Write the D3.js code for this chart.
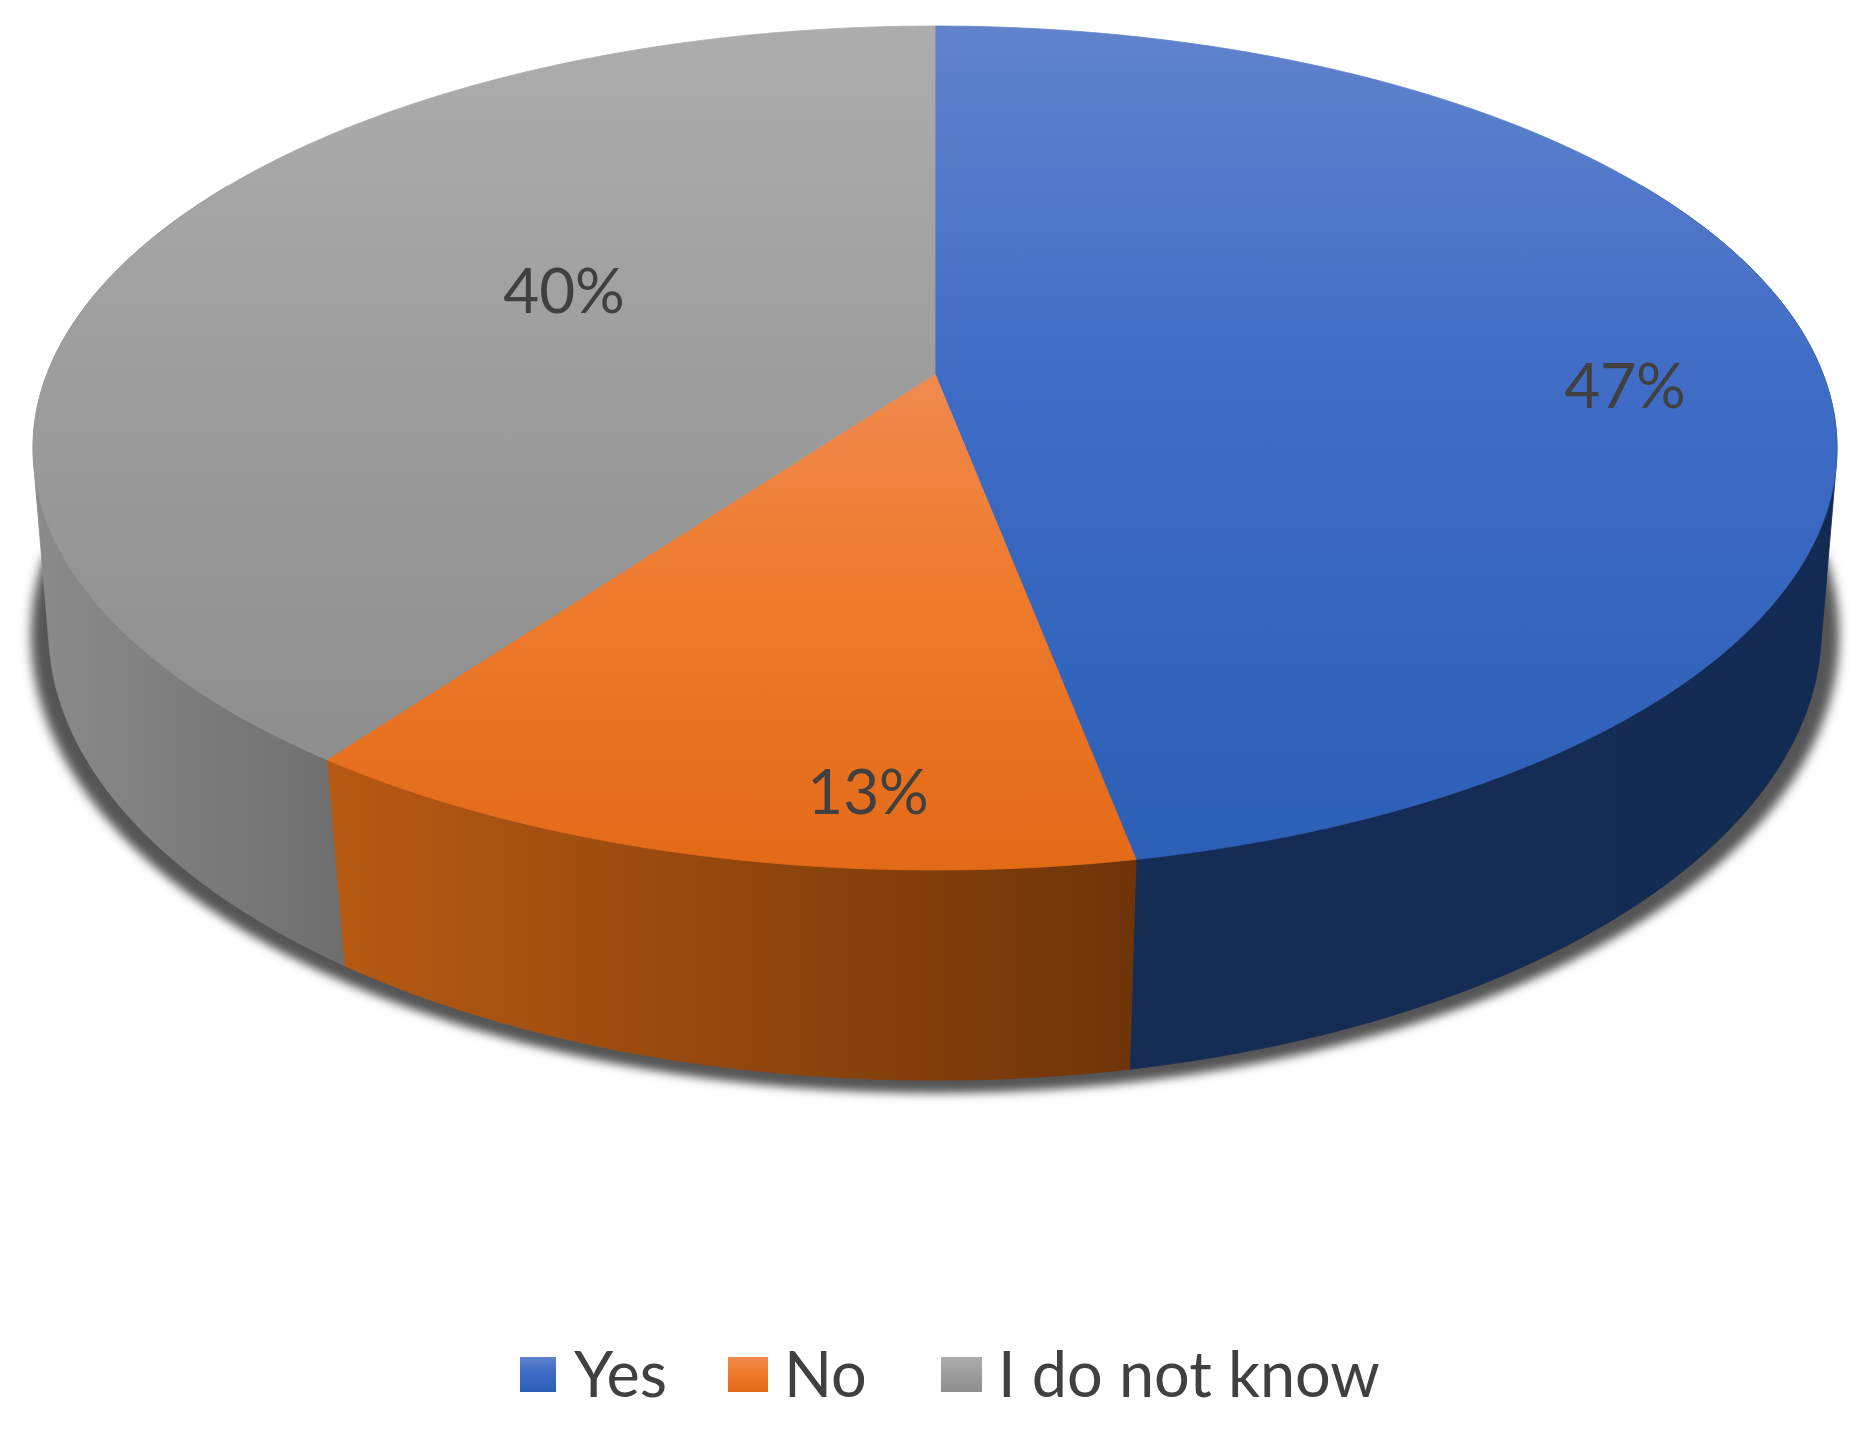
<!DOCTYPE html>
<html>
<head>
<meta charset="utf-8">
<script src="https://cdn.jsdelivr.net/npm/d3@7"></script>
<style>
  html, body { margin: 0; padding: 0; background: #fff; }
  svg { display: block; }
  text { font-family: Lato, "Open Sans", sans-serif; fill: #404040; }
</style>
</head>
<body>
<div id="chart"></div>
<script>
var width = 1861,
    height = 1430;

// values
const categories = ["Yes", "No", "I do not know"];
const shares = [47, 13, 40];
const labels = ["47%", "13%", "40%"];

// colours per slice: top face gradient, then wall gradient
const topFrom = ["#6083cc", "#f08a4e", "#adadad"];
const topMid = ["#3e6bc5", "#ee7a2c", "#9e9e9e"];
const topTo = ["#2c5fb6", "#e36a17", "#8e8e8e"];
const wallFrom = ["#152c54", "#b75a13", "#8b8b8b"];
const wallTo = ["#132a52", "#6e3408", "#6e6e6e"];

var svg = d3.select("#chart").append("svg")
    .attr("width", width)
    .attr("height", height);

var defs = svg.append("defs");

// pie seen in perspective: unit circle goes through a small homography
function plane(cx, cy, a, q, k) {
  return function(t) {
    var u = Math.sin(t), v = Math.cos(t), w = 1 + k * v;
    return [cx + a * u / w, cy - q * v / w];
  };
}
var apex = [935, 374];
var topPlane = plane(apex[0], apex[1], 888, 409, 0.1754);
var lowPlane = plane(935, 557, 875, 439.5, 0.16);

var pie = d3.pie().sort(null).value(d => d);
var slices = pie(shares);

var line = d3.line();
var deg = Math.PI / 180;

function arcPoints(p, a0, a1) {
  var n = Math.max(2, Math.ceil(Math.abs(a1 - a0) / (0.5 * deg)));
  return d3.range(n + 1).map(i => p(a0 + (a1 - a0) * i / n));
}

// wall only needs the front part, the top face hides the rest
var wallStart = 60 * deg, wallEnd = 300 * deg;
var walls = slices.map(s => {
  var a0 = Math.max(s.startAngle, wallStart),
      a1 = Math.min(s.endAngle, wallEnd);
  return d3.polygonHull(arcPoints(topPlane, a0, a1).concat(arcPoints(lowPlane, a0, a1)));
});
var silhouette = arcPoints(lowPlane, 90 * deg, 270 * deg);

slices.forEach((s, i) => {
  var g = defs.append("linearGradient").attr("id", "top" + i)
      .attr("x1", 0).attr("y1", 0).attr("x2", 0).attr("y2", 1);
  g.append("stop").attr("offset", 0).attr("stop-color", topFrom[i]);
  g.append("stop").attr("offset", 0.45).attr("stop-color", topMid[i]);
  g.append("stop").attr("offset", 1).attr("stop-color", topTo[i]);

  var w = defs.append("linearGradient").attr("id", "wall" + i)
      .attr("x1", 0).attr("y1", 0).attr("x2", 1).attr("y2", 0);
  w.append("stop").attr("offset", 0).attr("stop-color", wallFrom[i]);
  w.append("stop").attr("offset", 1).attr("stop-color", wallTo[i]);
});

defs.append("filter").attr("id", "soft")
    .attr("x", "-5%").attr("y", "-5%").attr("width", "110%").attr("height", "110%")
  .append("feGaussianBlur").attr("stdDeviation", 5);

defs.append("filter").attr("id", "textSoft")
  .append("feGaussianBlur").attr("stdDeviation", 0.7);

//shadow under the pie, a bit wider than the wall
svg.append("path")
    .attr("d", line(silhouette) + "Z")
    .attr("transform", "translate(935,6) scale(1.012,1) translate(-935,0)")
    .attr("fill", "#555")
    .attr("stroke", "#555")
    .attr("stroke-width", 14)
    .attr("filter", "url(#soft)");

svg.selectAll(".wall")
    .data(walls)
    .enter()
    .append("path")
    .attr("class", "wall")
    .attr("d", d => line(d) + "Z")
    .attr("fill", (d, i) => `url(#wall${i})`)
    .attr("stroke", (d, i) => `url(#wall${i})`)
    .attr("stroke-width", 0.8);

svg.selectAll(".slice")
    .data(slices)
    .enter()
    .append("path")
    .attr("class", "slice")
    .attr("d", d => line(arcPoints(topPlane, d.startAngle, d.endAngle).concat([apex])) + "Z")
    .attr("fill", (d, i) => `url(#top${i})`)
    .attr("stroke", (d, i) => `url(#top${i})`)
    .attr("stroke-width", 0.8);

// data labels
const labelX = [1625, 868, 564];
const labelY = [408, 814, 313];
svg.selectAll(".value")
    .data(labels)
    .enter()
    .append("text")
    .attr("class", "value")
    .attr("x", (d, i) => labelX[i])
    .attr("y", (d, i) => labelY[i])
    .attr("text-anchor", "middle")
    .attr("font-size", 62)
    .attr("filter", "url(#textSoft)")
    .text(d => d);

// legend
const swatchX = [520, 728, 941];
const swatchW = [36, 40, 41];
const legendTextX = [574, 784, 998];
var legend = svg.selectAll(".legend")
    .data(categories)
    .enter()
    .append("g")
    .attr("class", "legend");

legend.append("rect")
    .attr("x", (d, i) => swatchX[i])
    .attr("y", 1357)
    .attr("width", (d, i) => swatchW[i])
    .attr("height", 35)
    .attr("fill", (d, i) => `url(#top${i})`);

legend.append("text")
    .attr("x", (d, i) => legendTextX[i])
    .attr("y", 1397)
    .attr("font-size", 63)
    .attr("filter", "url(#textSoft)")
    .text(d => d);
</script>
</body>
</html>
